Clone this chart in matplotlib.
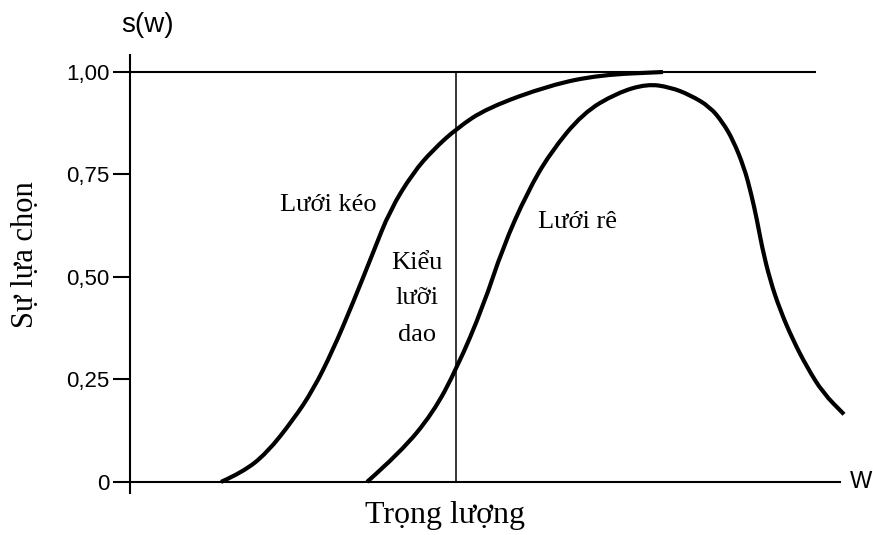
import matplotlib
matplotlib.use("Agg")
import matplotlib.pyplot as plt
from matplotlib.path import Path
from matplotlib.patches import PathPatch

# Selectivity curves s(w) against weight w
trawl_w = [9.1, 11.3, 13.7, 16.3, 18.3, 20.3, 22.3, 24.3, 26.0, 28.3, 30.3,
           32.7, 35.7, 42.0, 47.0, 53.3]
trawl_s = [0.0, 0.024, 0.071, 0.151, 0.224, 0.322, 0.437, 0.559, 0.663, 0.754,
           0.810, 0.863, 0.912, 0.968, 0.993, 1.0]

gillnet_w = [23.7, 27.0, 30.3, 32.7, 35.3, 37.3, 39.7, 42.0, 45.3, 48.7, 51.7,
             54.0, 56.0, 58.0, 59.3, 60.3, 61.4, 62.1, 62.7, 63.2, 64.0, 65.0,
             66.3, 67.7, 69.3, 71.4]
gillnet_s = [0.0, 0.071, 0.168, 0.278, 0.427, 0.573, 0.705, 0.802, 0.900,
             0.949, 0.971, 0.963, 0.944, 0.915, 0.876, 0.834, 0.768, 0.705,
             0.639, 0.573, 0.493, 0.420, 0.346, 0.280, 0.217, 0.165]

knife_edge_w = 32.6
y_ticks = [0, 0.25, 0.5, 0.75, 1.0]
y_tick_labels = ["0", "0,25", "0,50", "0,75", "1,00"]

serif = "Liberation Serif"
sans = "Liberation Sans"


def smooth_curve(xs, ys):
    # quadratic bezier through the midpoints, using the points as controls
    verts = [(xs[0], ys[0])]
    codes = [Path.MOVETO]
    for i in range(1, len(xs) - 1):
        verts.append((xs[i], ys[i]))
        verts.append(((xs[i] + xs[i + 1]) / 2, (ys[i] + ys[i + 1]) / 2))
        codes += [Path.CURVE3, Path.CURVE3]
    verts.append((xs[-1], ys[-1]))
    codes.append(Path.LINETO)
    return Path(verts, codes)


fig = plt.figure(figsize=(8.73, 5.35), dpi=100)
ax = fig.add_axes([130 / 873, 42 / 535, 720 / 873, 438 / 535])
ax.set_xlim(0, 72)
ax.set_ylim(-0.027, 1.0415)

for xs, ys in [(trawl_w, trawl_s), (gillnet_w, gillnet_s)]:
    ax.add_patch(PathPatch(smooth_curve(xs, ys), facecolor="none",
                           edgecolor="black", lw=3.0, capstyle="butt",
                           joinstyle="round", clip_on=False))

# reference lines: full selection and knife-edge
ax.plot([0, 68.5], [1.0, 1.0], color="black", lw=1.5)
ax.plot([knife_edge_w, knife_edge_w], [0, 1.0], color="black", lw=1.1)

for side in ("top", "right"):
    ax.spines[side].set_visible(False)
ax.spines["bottom"].set_position(("data", 0))
ax.spines["bottom"].set_bounds(0, 71)
ax.spines["left"].set_linewidth(1.5)
ax.spines["bottom"].set_linewidth(1.5)

ax.set_xticks([])
ax.set_yticks(y_ticks)
ax.set_yticklabels(y_tick_labels, fontfamily=sans, fontsize=16)
ax.tick_params(axis="y", direction="out", length=12, width=1.5, pad=3)

ax.text(15.0, 0.676, "Lưới kéo", fontfamily=serif, fontsize=19,
        ha="left", va="center")
ax.text(40.8, 0.634, "Lưới rê", fontfamily=serif, fontsize=19,
        ha="left", va="center")
ax.text(28.7, 0.535, "Kiểu", fontfamily=serif, fontsize=19,
        ha="center", va="center")
ax.text(28.7, 0.449, "lưỡi", fontfamily=serif, fontsize=19,
        ha="center", va="center")
ax.text(28.7, 0.359, "dao", fontfamily=serif, fontsize=19,
        ha="center", va="center")

fig.text(148 / 873, 1 - 25 / 535, "s(w)", fontfamily=sans, fontsize=20,
         ha="center", va="center")
fig.text(861 / 873, 1 - 482 / 535, "W", fontfamily=sans, fontsize=17,
         ha="center", va="center")
fig.text(26 / 873, 1 - 255 / 535, "Sự lựa chọn", fontfamily=serif,
         fontsize=22, rotation=90, ha="center", va="center")
fig.text(445 / 873, 1 - 516 / 535, "Trọng lượng", fontfamily=serif,
         fontsize=23, ha="center", va="center")

fig.savefig("out.png", dpi=100)
